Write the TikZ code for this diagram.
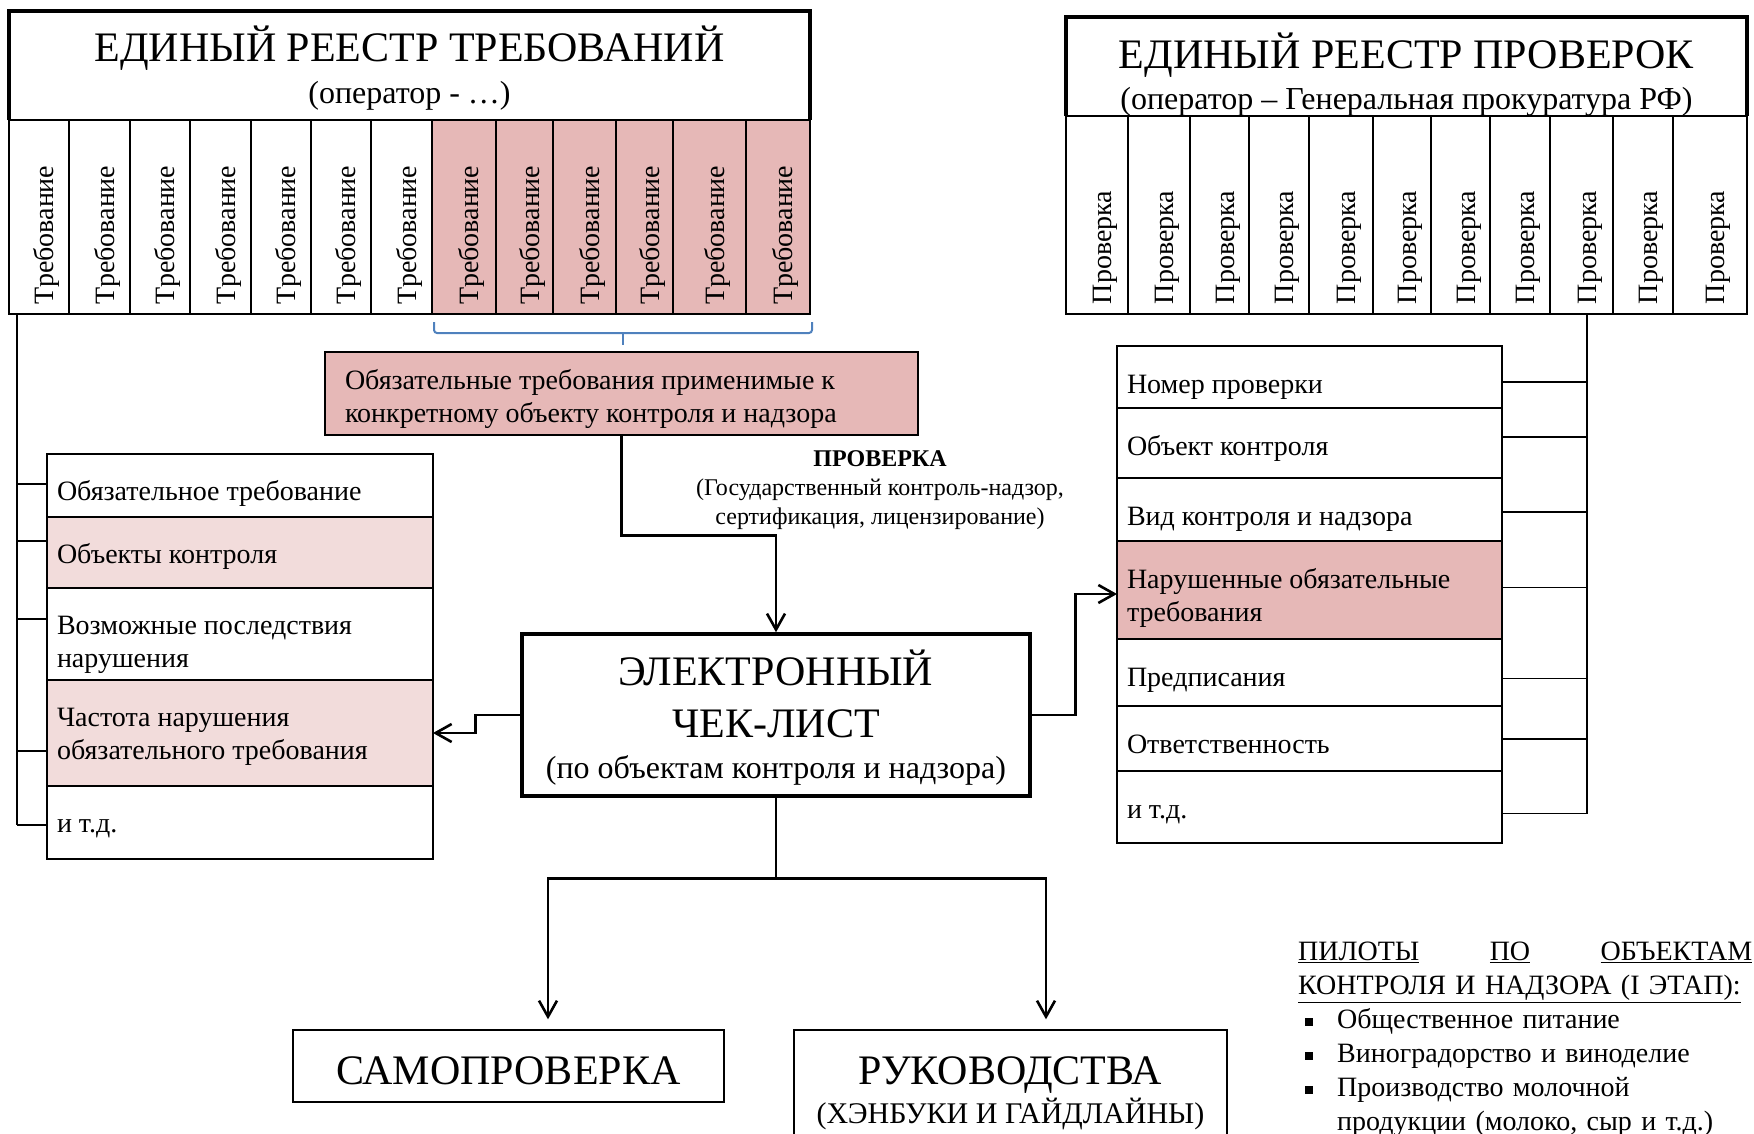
\documentclass[tikz,border=0pt]{standalone}
\usepackage{fontspec}
\setmainfont{Liberation Serif}
\usetikzlibrary{positioning, arrows.meta}
\usepackage{xcolor}
\definecolor{reqpink}{HTML}{E6B8B7}
\definecolor{rowpink}{HTML}{F2DCDB}
\definecolor{bracecol}{HTML}{4F81BD}
\setlength{\parindent}{0pt}
\newcommand{\hdrfont}{\fontsize{42}{46}\selectfont}
\newcommand{\subfont}{\fontsize{32}{38}\selectfont}
\newcommand{\txtfont}{\fontsize{28}{33}\selectfont}
\newcommand{\smlfont}{\fontsize{24}{29}\selectfont}
\newcommand{\pilotitem}[1]{\hspace*{7pt}\makebox[32pt][l]{\rule[3pt]{8pt}{8pt}}%
  \parbox[t]{415pt}{#1}}

\begin{document}
\begin{tikzpicture}[x=1pt, y=-1pt,
  hdr/.style={inner sep=0pt, align=flush center, font=\hdrfont},
  hdrline/.style={line width=3.5pt, line join=miter},
  reqcol/.style={draw, line width=1.2pt, rotate=90, inner xsep=10pt,
                 inner ysep=0pt, text height=35pt, text depth=6pt,
                 align=left, font=\txtfont},
  lrow/.style={draw, line width=1.2pt, outer sep=0pt, text width=366pt,
               inner xsep=10pt, inner ysep=0pt, text height=46.5pt,
               align=flush left, font=\txtfont},
  mainbox/.style={draw, line width=1.4pt, inner sep=0pt, align=flush center,
                  font=\hdrfont},
  branch/.style={line width=1.3pt},
  brace/.style={draw=bracecol, line width=2pt, rounded corners=3pt},
  arr/.style={-{Straight Barb[length=16pt,width=18pt]}, line width=2.6pt}
]
\useasboundingbox (0,0) rectangle (1754,1134);

% register of requirements
\foreach \a/\b [count=\i] in {9/69,69/130,130/190,190/251,251/311,311/371,371/432}
  \node[reqcol, text width=174pt, minimum height=\b-\a] (req\i)
    at ({(\a+\b)/2},217) {Требование};
\foreach \a/\b [count=\i from 8] in {432/496,496/553,553/616,616/673,673/746,746/810}
  \node[reqcol, fill=reqpink, text width=174pt, minimum height=\b-\a] (req\i)
    at ({(\a+\b)/2},217) {Требование};
\node[hdr, text width=781pt, minimum width=801pt, minimum height=109pt,
      text height=51pt, text depth=58pt] (treg) at (409.5,65.5)
  {ЕДИНЫЙ РЕЕСТР ТРЕБОВАНИЙ\\[-4pt]{\subfont (оператор - …)}};
\draw[hdrline] (treg.south west) -- (treg.north west) -- (treg.north east) -- (treg.south east);

% register of inspections
\foreach \a/\b [count=\i] in {1066/1128,1128/1190,1190/1249,1249/1309,1309/1373,
    1373/1431,1431/1490,1490/1550,1550/1613,1613/1673,1673/1747}
  \node[reqcol, text width=178pt, minimum height=\b-\a] (chk\i)
    at ({(\a+\b)/2},215) {Проверка};
\node[hdr, text width=661pt, minimum width=681pt, minimum height=99pt,
      text height=52pt, text depth=47pt] (preg) at (1406.5,66.5)
  {ЕДИНЫЙ РЕЕСТР ПРОВЕРОК\\[-5pt]{\subfont (оператор – Генеральная прокуратура РФ)}};
\draw[hdrline] (preg.south west) -- (preg.north west) -- (preg.north east) -- (preg.south east);

% brace under the pink requirements
\draw[brace] (434,322) -- (434,333) -- (812,333) -- (812,322);
\draw[brace] (623,333) -- (623,345);

\node[draw, fill=reqpink, line width=1.4pt, minimum width=593pt, minimum height=83pt,
      text width=553pt, inner xsep=20pt, inner ysep=0pt, text height=37pt,
      text depth=46pt, align=flush left, font=\txtfont] (oblig)
  at (621.5,393.5) {Обязательные требования применимые к\\конкретному объекту контроля и надзора};

\node[align=center, font=\smlfont] (proverka) at (880,490.5)
  {\textbf{ПРОВЕРКА}\\(Государственный контроль-надзор,\\сертификация, лицензирование)};

\node[mainbox, line width=3.5pt, text width=488pt, minimum width=508pt, minimum height=162pt,
      text height=51pt, text depth=111pt, font=\fontsize{42}{52}\selectfont] (check) at (776,715)
  {ЭЛЕКТРОННЫЙ\\ЧЕК-ЛИСТ\\[-11pt]{\subfont (по объектам контроля и надзора)}};

% checklist fields
\node[lrow, minimum height=63pt, text depth=16.5pt] (l1) at (240,485.5) {Обязательное требование};
\node[lrow, fill=rowpink, minimum height=71pt, text depth=24.5pt, below=0pt of l1] (l2) {Объекты контроля};
\node[lrow, minimum height=92pt, text depth=45.5pt, below=0pt of l2] (l3) {Возможные последствия\\нарушения};
\node[lrow, fill=rowpink, minimum height=106pt, text depth=59.5pt, below=0pt of l3] (l4) {Частота нарушения\\обязательного требования};
\node[lrow, minimum height=73pt, text depth=26.5pt, below=0pt of l4] (l5) {и т.д.};

% inspection fields
\tikzset{rrow/.style={lrow, text width=365pt, text height=47pt}}
\node[rrow, minimum height=62pt, text depth=15pt] (r1) at (1309.5,377) {Номер проверки};
\node[rrow, minimum height=70pt, text depth=23pt, below=0pt of r1] (r2) {Объект контроля};
\node[rrow, minimum height=63pt, text depth=16pt, below=0pt of r2] (r3) {Вид контроля и надзора};
\node[rrow, fill=reqpink, minimum height=98pt, text depth=51pt, below=0pt of r3] (r4) {Нарушенные обязательные\\требования};
\node[rrow, minimum height=67pt, text depth=20pt, below=0pt of r4] (r5) {Предписания};
\node[rrow, minimum height=65pt, text depth=18pt, below=0pt of r5] (r6) {Ответственность};
\node[rrow, minimum height=72pt, text depth=25pt, below=0pt of r6] (r7) {и т.д.};

\node[mainbox, text width=411pt, minimum width=431pt, minimum height=72pt,
      text height=54pt, text depth=18pt] (samo) at (508.5,1066) {САМОПРОВЕРКА};
\node[mainbox, text width=413pt, minimum width=433pt, minimum height=120pt,
      text height=54pt, text depth=66pt] (ruk) at (1010.5,1090)
  {РУКОВОДСТВА\\[-7pt]{\fontsize{30}{36}\selectfont (ХЭНБУКИ И ГАЙДЛАЙНЫ)}};

\node[anchor=north west, text width=454pt, inner sep=0pt, align=left,
      font=\fontsize{28}{34}\selectfont] (pilots) at (1298,942)
  {\underline{ПИЛОТЫ}\hfill\underline{ПО}\hfill\underline{ОБЪЕКТАМ}\\
   \underline{КОНТРОЛЯ И НАДЗОРА (I ЭТАП):}\\
   \pilotitem{Общественное питание}\\
   \pilotitem{Виноградорство и виноделие}\\
   \pilotitem{Производство молочной\\продукции (молоко, сыр и т.д.)}};

% trees
\coordinate (ltrunk) at (17,314);
\draw[branch] (ltrunk) -- ([yshift=-2.5pt]l5.west -| ltrunk);
\foreach \i/\s in {1/1.5, 2/11.5, 3/15, 4/-18, 5/-2.5}
  \draw[branch] ([yshift=\s pt]l\i.west) -- ([yshift=\s pt]l\i.west -| ltrunk);
\coordinate (rtrunk) at (1587,314);
\draw[branch] (rtrunk) -- ([yshift=-6.5pt]r7.east -| rtrunk);
\foreach \i/\s in {1/-5, 2/6, 3/-2.5, 4/2.5, 5/-6, 6/-0.5, 7/-6.5}
  \draw[branch] ([yshift=\s pt]r\i.east) -- ([yshift=\s pt]r\i.east -| rtrunk);

% connectors
\draw[arr] (oblig.south) -- ++(0,100) -| (check.north);
\draw[arr] (check.west) -- ++(-45,0) |- (l4.east);
\draw[arr] (check.east) -- ++(44,0) |- ([yshift=-4pt]r4.west);
\draw[line width=2.6pt] (check.south) -- ++(0,81) coordinate (fork);
\draw[arr] (fork) -| ([xshift=39.5pt,yshift=10pt]samo.north);
\draw[arr] (fork) -| ([xshift=35.5pt,yshift=10pt]ruk.north);
\end{tikzpicture}
\end{document}
